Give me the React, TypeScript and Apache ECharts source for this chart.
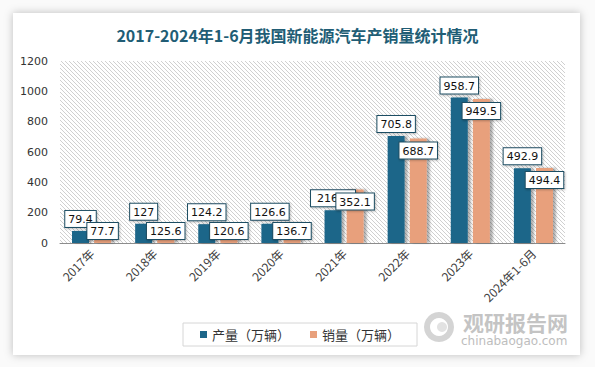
import React, { useEffect, useRef } from "react";
import * as echarts from "echarts";

const categories = ["2017年", "2018年", "2019年", "2020年", "2021年", "2022年", "2023年", "2024年1-6月"];
const production = [79.4, 127, 124.2, 126.6, 216, 705.8, 958.7, 492.9];
const sales = [77.7, 125.6, 120.6, 136.7, 352.1, 688.7, 949.5, 494.4];
const seriesNames = ["产量（万辆）", "销量（万辆）"];
const titleText = "2017-2024年1-6月我国新能源汽车产销量统计情况";

function makeHatch() {
  const c = document.createElement("canvas");
  c.width = 4;
  c.height = 4;
  const ctx = c.getContext("2d");
  if (ctx) {
    ctx.fillStyle = "#ffffff";
    ctx.fillRect(0, 0, 4, 4);
    ctx.fillStyle = "#d0d0d0";
    for (let i = 0; i < 4; i++) ctx.fillRect(i, i, 1, 1);
  }
  return c;
}

export default function App() {
  const ref = useRef<HTMLDivElement>(null);
  useEffect(() => {
    if (!ref.current) return;
    const chart = echarts.init(ref.current, null, { renderer: "svg" });
    const hatch = makeHatch();
    const labelBase = {
      show: true,
      fontFamily: "DejaVu Sans",
      fontSize: 11,
      color: "#111",
      backgroundColor: "#fff",
      borderColor: "#1f4e63",
      borderWidth: 1,
      padding: [3, 3, 2, 3],
      shadowColor: "rgba(0,0,0,0.25)",
      shadowBlur: 2,
      shadowOffsetX: 1,
      shadowOffsetY: 1,
    };
    // the 2021 production label in the reference has a wider box partly hidden by the sales label
    const prodData = production.map((v, i) =>
      i === 4 ? { value: v, label: { padding: [3, 17, 2, 6] } } : v
    );
    chart.setOption({
      animation: false,
      backgroundColor: "#fafafa",
      title: {
        text: titleText,
        left: "center",
        top: 22,
        textStyle: { fontFamily: "Noto Sans CJK SC", fontWeight: "bold", fontSize: 16, color: "#215d75" },
      },
      graphic: [
        {
          type: "rect",
          z: -10,
          shape: { x: 13, y: 13, width: 567, height: 342 },
          style: { fill: "#fff", shadowColor: "rgba(0,0,0,0.25)", shadowBlur: 8 },
          silent: true,
        },
        {
          type: "ring",
          shape: { cx: 439, cy: 327, r: 15, r0: 9 },
          style: { fill: "#d4d4d4" },
          z: 1,
        },
        {
          type: "circle",
          shape: { cx: 442, cy: 327, r: 5 },
          style: { fill: "#e2e2e2" },
          z: 1,
        },
        {
          type: "text",
          x: 463,
          y: 311,
          style: { text: "观研报告网", fontFamily: "Noto Sans CJK SC", fontWeight: "bold", fontSize: 21, fill: "#c4c4c4" },
          z: 1,
        },
        {
          type: "text",
          x: 461,
          y: 335,
          style: { text: "chinabaogao.com", fontFamily: "DejaVu Sans", fontSize: 12, fill: "#bdbdbd" },
          z: 1,
        },
      ],
      legend: {
        left: 183,
        top: 323,
        padding: [5, 17],
        borderColor: "#d6d6d6",
        borderWidth: 1,
        backgroundColor: "#fff",
        itemWidth: 7,
        itemHeight: 7,
        itemGap: 20,
        icon: "rect",
        textStyle: { fontFamily: "Noto Sans CJK SC", fontSize: 13, color: "#333" },
        data: seriesNames,
      },
      grid: {
        left: 60,
        right: 30,
        top: 61,
        bottom: 124,
        show: true,
        borderWidth: 0,
        backgroundColor: { image: hatch, repeat: "repeat" },
      },
      xAxis: {
        type: "category",
        data: categories,
        axisLine: { lineStyle: { color: "#8c8c8c" } },
        axisTick: { show: false },
        axisLabel: { rotate: 45, fontFamily: "Noto Sans CJK SC", fontSize: 12, color: "#404040", margin: 8, interval: 0 },
      },
      yAxis: {
        type: "value",
        min: 0,
        max: 1200,
        interval: 200,
        splitLine: { show: false },
        axisLine: { show: false },
        axisLabel: {
          fontFamily: "DejaVu Sans",
          fontSize: 11,
          color: "#333",
          margin: 12,
          formatter: (v: number) => String(v),
        },
      },
      series: [
        {
          name: seriesNames[0],
          type: "bar",
          data: prodData,
          barWidth: 17,
          barGap: "30%",
          itemStyle: {
            color: "#1d6689",
            shadowColor: "rgba(0,0,0,0.3)",
            shadowBlur: 2,
            shadowOffsetX: 3,
          },
          label: { ...labelBase, position: "top", distance: 4 },
        },
        {
          name: seriesNames[1],
          type: "bar",
          data: sales.map((v) => ({
            value: v,
            label: v < 200 ? { position: "insideBottom", distance: 4 } : { position: "insideTop", distance: 4 },
          })),
          barWidth: 17,
          itemStyle: {
            color: "#e8a07c",
            shadowColor: "rgba(0,0,0,0.3)",
            shadowBlur: 2,
            shadowOffsetX: 3,
          },
          label: { ...labelBase },
        },
      ],
    });
    return () => chart.dispose();
  }, []);
  return <div ref={ref} style={{ position: "fixed", left: 0, top: 0, width: 595, height: 367 }} />;
}
